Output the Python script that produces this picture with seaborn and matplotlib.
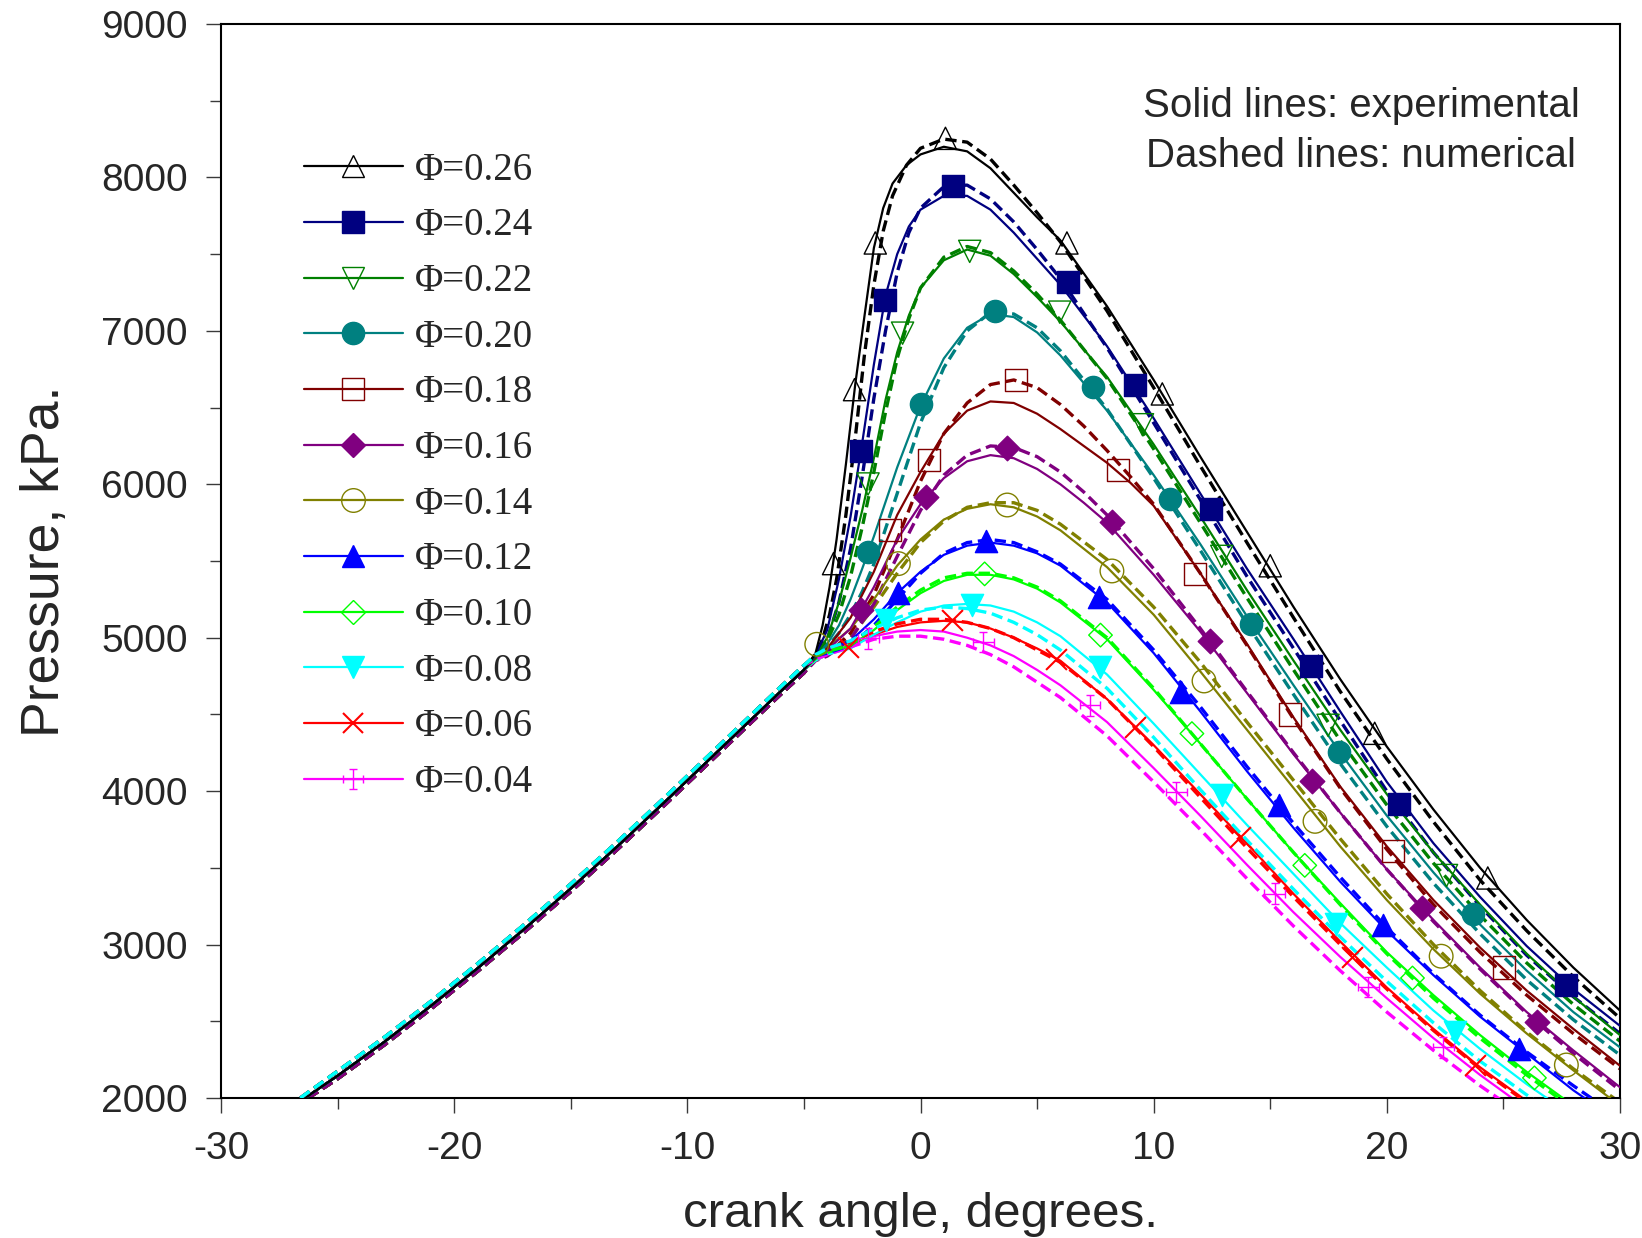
import numpy as np
import matplotlib
matplotlib.use("Agg")
import matplotlib.pyplot as plt
from matplotlib.lines import Line2D
from matplotlib.path import Path
from matplotlib.ticker import MultipleLocator
import seaborn as sns

# ---------------------------------------------------------------------------
# Shared compression stroke (before ignition), crank angle in degrees / kPa
# ---------------------------------------------------------------------------
comp_deg_exp = [-26.4, -25, -23, -21, -19, -17, -15, -13, -11, -9, -7, -6, -5]
comp_kpa_exp = [2000, 2145, 2365, 2600, 2845, 3100, 3365, 3640, 3925, 4215, 4505, 4650, 4790]
# model compression: lean cases sit slightly above, rich cases slightly below
comp_deg_num_lean = [-26.6, -25, -23, -21, -19, -17, -15, -13, -11, -9, -7, -6, -5]
comp_kpa_num_lean = [2000, 2175, 2395, 2630, 2875, 3130, 3395, 3670, 3955, 4245, 4535, 4680, 4820]
comp_deg_num_rich = [-26.25, -25, -23, -21, -19, -17, -15, -13, -11, -9, -7, -6, -5]
comp_kpa_num_rich = [2000, 2125, 2345, 2580, 2825, 3080, 3345, 3620, 3905, 4195, 4485, 4630, 4770]

# Crank-angle grids used after ignition
grid_a = [-5, -4.5, -4.2, -3.9, -3.6, -3.2, -2.8, -2.4, -2.0, -1.6, -1.2, -0.6, 0,
          1, 2, 3, 4, 5, 6, 8, 10, 12, 14, 16, 18, 20, 22, 24, 26, 28, 30]
grid_b = [-5, -4.5, -4, -3.5, -3, -2.5, -2, -1.5, -1, -0.5, 0,
          1, 2, 3, 4, 5, 6, 8, 10, 12, 14, 16, 18, 20, 22, 24, 26, 28, 30]
grid_c = [-5, -4.5, -4, -3.5, -3, -2.5, -2, -1, 0,
          1, 2, 3, 4, 5, 6, 8, 10, 12, 14, 16, 18, 20, 22, 24, 26, 28, 30]
grid_d = [-5, -4.5, -4, -3, -2, -1, 0, 1, 2, 3, 4, 5, 6, 7, 8, 9, 10,
          12, 14, 16, 18, 20, 22, 24, 26, 28, 30]
grid_e = [-5, -4.5, -4, -3, -2, -1, 0, 1, 2, 3, 4, 5, 6, 7, 8,
          10, 12, 14, 16, 18, 20, 22, 24, 26, 28, 30]
grid_f = [-5, -4.5, -4, -3, -2, -1, 0, 1, 2, 3, 4, 5, 6,
          8, 10, 12, 14, 16, 18, 20, 22, 24, 26, 28, 30]

# Pressure traces: experimental (solid) and numerical (dashed), kPa
p026_exp = [4790, 4900, 5080, 5330, 5640, 6130, 6650, 7100, 7540, 7800, 7960, 8080, 8150,
            8200, 8170, 8060, 7900, 7740, 7590, 7160, 6680, 6180, 5690, 5200, 4730, 4290,
            3880, 3500, 3160, 2850, 2570]
p026_num = [4770, 4890, 4990, 5150, 5380, 5800, 6300, 6850, 7300, 7650, 7880, 8080, 8190,
            8250, 8230, 8120, 7950, 7770, 7580, 7130, 6630, 6120, 5620, 5130, 4650, 4210,
            3800, 3420, 3090, 2790, 2520]
p024_exp = [4790, 4890, 5050, 5380, 5790, 6270, 6780, 7230, 7500, 7680, 7790,
            7880, 7880, 7790, 7640, 7470, 7300, 6900, 6430, 5940, 5450, 4990, 4520, 4060,
            3660, 3310, 2990, 2710, 2470]
p024_num = [4770, 4880, 4990, 5230, 5580, 6050, 6560, 7000, 7380, 7640, 7800,
            7940, 7950, 7860, 7710, 7530, 7340, 6890, 6400, 5900, 5400, 4930, 4460, 4000,
            3600, 3250, 2930, 2660, 2420]
p022_exp = [4790, 4880, 5000, 5230, 5520, 5830, 6170, 6550, 6860, 7100, 7280,
            7460, 7530, 7490, 7370, 7220, 7060, 6700, 6260, 5790, 5310, 4850, 4400, 3980,
            3600, 3260, 2940, 2660, 2410]
p022_num = [4770, 4880, 4980, 5150, 5400, 5720, 6080, 6470, 6820, 7080, 7280,
            7480, 7550, 7510, 7390, 7240, 7070, 6690, 6230, 5750, 5260, 4790, 4330, 3910,
            3530, 3190, 2880, 2610, 2370]
p020_exp = [4790, 4880, 4960, 5080, 5250, 5450, 5660, 6110, 6510,
            6820, 7020, 7110, 7090, 6990, 6840, 6480, 6060, 5610, 5140, 4690, 4250, 3840,
            3470, 3130, 2830, 2560, 2330]
p020_num = [4770, 4870, 4940, 5030, 5150, 5300, 5480, 5940, 6400,
            6760, 7000, 7120, 7110, 7020, 6870, 6490, 6040, 5570, 5090, 4630, 4180, 3770,
            3400, 3070, 2770, 2510, 2280]
p018_exp = [4790, 4870, 4930, 5130, 5430, 5800, 6080,
            6330, 6480, 6540, 6530, 6460, 6360, 6250, 6140, 6010, 5860,
            5420, 4960, 4480, 4030, 3640, 3290, 2980, 2700, 2450, 2210]
p018_num = [4770, 4860, 4890, 5030, 5280, 5640, 6020,
            6330, 6530, 6650, 6680, 6630, 6520, 6380, 6220, 6050, 5870,
            5420, 4950, 4470, 4020, 3620, 3260, 2950, 2670, 2420, 2190]
p016_exp = [4790, 4870, 4920, 5060, 5330, 5640, 5870,
            6040, 6150, 6190, 6170, 6100, 6000, 5880, 5750,
            5410, 5040, 4640, 4240, 3860, 3490, 3160, 2850, 2560, 2310, 2070]
p016_num = [4770, 4850, 4880, 4990, 5220, 5530, 5830,
            6060, 6190, 6250, 6240, 6180, 6080, 5950, 5800,
            5450, 5060, 4650, 4250, 3860, 3490, 3150, 2840, 2550, 2290, 2050]
p014_exp = [4790, 4880, 4930, 5060, 5250, 5470, 5640, 5770, 5840, 5870, 5850, 5790, 5700,
            5460, 5150, 4780, 4400, 4020, 3640, 3290, 2970, 2680, 2420, 2180, 1950]
p014_num = [4770, 4870, 4910, 5000, 5200, 5420, 5620, 5760, 5850, 5880, 5880, 5830, 5740,
            5510, 5200, 4840, 4450, 4070, 3690, 3330, 3000, 2700, 2430, 2190, 1970]
p012_exp = [4790, 4870, 4920, 4980, 5120, 5290, 5430, 5540, 5600, 5620, 5600, 5550, 5470,
            5230, 4900, 4520, 4130, 3760, 3410, 3090, 2800, 2530, 2290, 2050, 1840]
p012_num = [4820, 4880, 4900, 4950, 5080, 5250, 5420, 5550, 5620, 5640, 5620, 5560, 5480,
            5250, 4920, 4550, 4160, 3790, 3440, 3110, 2810, 2540, 2300, 2080, 1870]
p010_exp = [4790, 4860, 4900, 4950, 5050, 5180, 5290, 5370, 5410, 5410, 5380, 5320, 5230,
            4990, 4660, 4310, 3950, 3600, 3270, 2950, 2670, 2410, 2170, 1950, 1750]
p010_num = [4820, 4880, 4910, 4950, 5070, 5200, 5310, 5390, 5420, 5420, 5390, 5330, 5240,
            5000, 4670, 4310, 3950, 3600, 3260, 2940, 2650, 2390, 2150, 1930, 1730]
p008_exp = [4790, 4850, 4890, 4930, 5020, 5100, 5170, 5210, 5220, 5210, 5170, 5100, 5010,
            4760, 4440, 4110, 3780, 3460, 3140, 2850, 2570, 2320, 2090, 1880, 1690]
p008_num = [4820, 4890, 4930, 4980, 5060, 5130, 5180, 5200, 5190, 5160, 5100, 5020, 4920,
            4670, 4350, 4010, 3680, 3360, 3050, 2760, 2490, 2240, 2020, 1810, 1620]
p006_exp = [4790, 4850, 4890, 4940, 5020, 5070, 5100, 5110, 5100, 5060, 5000, 4930, 4850,
            4600, 4300, 3980, 3660, 3330, 3020, 2720, 2450, 2200, 1980, 1780, 1600]
p006_num = [4820, 4890, 4920, 4970, 5040, 5090, 5120, 5120, 5100, 5060, 5000, 4920, 4840,
            4600, 4290, 3960, 3630, 3310, 3000, 2710, 2440, 2190, 1970, 1770, 1590]
p004_exp = [4790, 4850, 4900, 4950, 5010, 5040, 5050, 5040, 5000, 4950, 4880, 4790, 4690,
            4450, 4150, 3840, 3520, 3210, 2920, 2650, 2390, 2150, 1930, 1730, 1550]
p004_num = [4820, 4860, 4890, 4940, 4990, 5010, 5010, 4990, 4950, 4890, 4810, 4710, 4610,
            4360, 4060, 3750, 3430, 3120, 2830, 2560, 2310, 2080, 1870, 1680, 1500]

# Symbol positions along the measured traces (deg, kPa)
m026_deg = [-3.73, -2.83, -1.94, 1.07, 6.28, 10.37, 15.0, 19.48, 24.33]
m026_kpa = [5483, 6617, 7573, 8255, 7573, 6589, 5469, 4377, 3434]
m024_deg = [-2.56, -1.53, 1.39, 6.33, 9.20, 12.48, 16.74, 20.52, 27.70]
m024_kpa = [6220, 7204, 7941, 7320, 6644, 5838, 4814, 3919, 2737]
m022_deg = [-2.25, -0.77, 2.11, 5.97, 9.52, 12.92, 17.48, 22.56]
m022_kpa = [6002, 6985, 7518, 7122, 6388, 5530, 4429, 3450]
m020_deg = [-2.25, 0.04, 3.18, 7.40, 10.71, 14.19, 17.96, 23.71]
m020_kpa = [5558, 6521, 7129, 6637, 5903, 5090, 4253, 3198]
m018_deg = [-1.31, 0.35, 4.08, 8.46, 11.77, 15.85, 20.25, 25.01]
m018_kpa = [5701, 6159, 6678, 6095, 5413, 4499, 3612, 2850]
m016_deg = [-2.56, 0.22, 3.72, 8.20, 12.40, 16.79, 21.5, 26.44]
m016_kpa = [5182, 5920, 6234, 5756, 4980, 4069, 3236, 2498]
m014_deg = [-4.45, -0.95, 3.72, 8.21, 12.16, 16.92, 22.33, 27.7]
m014_kpa = [4957, 5483, 5865, 5435, 4718, 3803, 2924, 2215]
m012_deg = [-0.95, 2.82, 7.67, 11.19, 15.37, 19.85, 25.65]
m012_kpa = [5292, 5633, 5264, 4648, 3910, 3130, 2318]
m010_deg = [2.75, 7.72, 11.64, 16.48, 21.10, 26.33]
m010_kpa = [5416, 5017, 4375, 3516, 2782, 2131]
m008_deg = [-1.46, 2.19, 7.69, 12.91, 17.84, 22.92]
m008_kpa = [5114, 5211, 4810, 3972, 3136, 2429]
m006_deg = [-3.10, 1.33, 5.83, 9.19, 13.70, 18.49, 23.77]
m006_kpa = [4940, 5114, 4863, 4418, 3700, 2919, 2212]
m004_deg = [-2.24, 2.69, 7.27, 10.97, 15.20, 19.20, 22.42]
m004_kpa = [4995, 4972, 4560, 3994, 3332, 2723, 2331]

phi_labels = ["Φ=0.26", "Φ=0.24", "Φ=0.22", "Φ=0.20", "Φ=0.18", "Φ=0.16",
              "Φ=0.14", "Φ=0.12", "Φ=0.10", "Φ=0.08", "Φ=0.06", "Φ=0.04"]

# ---------------------------------------------------------------------------
# Styling
# ---------------------------------------------------------------------------
capped_cross = Path(
    [(0, -1), (0, 1), (-0.4, 1), (0.4, 1), (-0.4, -1), (0.4, -1),
     (-1, 0), (1, 0), (-1, -0.4), (-1, 0.4), (1, -0.4), (1, 0.4)],
    [Path.MOVETO, Path.LINETO] * 6,
)

RICH = (comp_deg_num_rich, comp_kpa_num_rich)
LEAN = (comp_deg_num_lean, comp_kpa_num_lean)

series = [
    (grid_a, p026_exp, p026_num, RICH, m026_deg, m026_kpa, "#000000", "^", 16, False),
    (grid_b, p024_exp, p024_num, RICH, m024_deg, m024_kpa, "#000080", "s", 16, True),
    (grid_b, p022_exp, p022_num, RICH, m022_deg, m022_kpa, "#008000", "v", 16, False),
    (grid_c, p020_exp, p020_num, RICH, m020_deg, m020_kpa, "#008080", "o", 16, True),
    (grid_d, p018_exp, p018_num, RICH, m018_deg, m018_kpa, "#800000", "s", 16, False),
    (grid_e, p016_exp, p016_num, RICH, m016_deg, m016_kpa, "#800080", "D", 12.5, True),
    (grid_f, p014_exp, p014_num, RICH, m014_deg, m014_kpa, "#808000", "o", 17, False),
    (grid_f, p012_exp, p012_num, LEAN, m012_deg, m012_kpa, "#0000FF", "^", 16, True),
    (grid_f, p010_exp, p010_num, LEAN, m010_deg, m010_kpa, "#00FF00", "D", 12, False),
    (grid_f, p008_exp, p008_num, LEAN, m008_deg, m008_kpa, "#00FFFF", "v", 16, True),
    (grid_f, p006_exp, p006_num, LEAN, m006_deg, m006_kpa, "#FF0000", "x", 15, False),
    (grid_f, p004_exp, p004_num, LEAN, m004_deg, m004_kpa, "#FF00FF", capped_cross, 15, False),
]

sns.set_style("ticks")
plt.rcParams["font.family"] = ["Liberation Sans", "DejaVu Sans"]
plt.rcParams["axes.unicode_minus"] = False

fig = plt.figure(figsize=(16.42, 12.38), dpi=100)
ax = fig.add_axes([0.1346, 0.1131, 0.852, 0.8675])

SOLID_LW = 1.6
DASH_LW = 2.4
DASH = (0, (3.4, 1.7))
# stacking order of the model traces where they overlap on compression
dash_z = {"#00FFFF": 2.9, "#00FF00": 2.85, "#0000FF": 2.8, "#FF0000": 2.75,
          "#FF00FF": 2.7, "#800080": 2.45, "#800000": 2.44}

handles = []
for idx, (grid, p_exp, p_num, comp, mdeg, mkpa, color, marker, msize, filled) in enumerate(series):
    x_exp = comp_deg_exp[:-1] + grid
    y_exp = comp_kpa_exp[:-1] + p_exp
    x_num = comp[0][:-1] + grid
    y_num = comp[1][:-1] + p_num

    sns.lineplot(x=x_exp, y=y_exp, ax=ax, color=color, linewidth=SOLID_LW,
                 sort=False, estimator=None, legend=False, zorder=2.6 - idx * 0.01)
    sns.lineplot(x=x_num, y=y_num, ax=ax, color=color, linewidth=DASH_LW,
                 linestyle=DASH, sort=False, estimator=None, legend=False,
                 zorder=dash_z.get(color, 2.2 + idx * 0.01))

    if marker == "x":
        sns.scatterplot(x=mdeg, y=mkpa, ax=ax, marker="x", s=msize ** 2, color=color,
                        edgecolor=None, linewidth=1.5, zorder=4, legend=False)
        face = color
    else:
        face = color if filled else "none"
        sns.scatterplot(x=mdeg, y=mkpa, ax=ax, marker=marker, s=msize ** 2, color=color,
                        facecolor=face, edgecolor=color, linewidth=1.0,
                        zorder=4, legend=False)

    handles.append(Line2D([0], [0], color=color, linewidth=SOLID_LW, marker=marker,
                          markersize=msize, markerfacecolor=face,
                          markeredgecolor=color,
                          markeredgewidth=1.5 if marker == "x" else 1.0))

ax.set_xlim(-30, 30)
ax.set_ylim(2000, 9000)
ax.xaxis.set_major_locator(MultipleLocator(10))
ax.xaxis.set_minor_locator(MultipleLocator(5))
ax.yaxis.set_major_locator(MultipleLocator(1000))
ax.yaxis.set_minor_locator(MultipleLocator(500))
ax.tick_params(which="both", direction="out", color="#3a3a3a", width=1.0)
ax.tick_params(which="major", length=10.8, labelsize=28, pad=13)
ax.tick_params(which="minor", length=8)
for spine in ax.spines.values():
    spine.set_color("black")
    spine.set_linewidth(1.5)

ax.set_xlabel("crank angle, degrees.", fontsize=35.5)
ax.set_ylabel("Pressure, kPa.", fontsize=38.5)
ax.xaxis.set_label_coords(0.5, -0.088)
ax.yaxis.set_label_coords(-0.108, 0.5)

ax.text(0.815, 0.924, "Solid lines: experimental", transform=ax.transAxes,
        ha="center", va="center", fontsize=29)
ax.text(0.815, 0.877, "Dashed lines: numerical", transform=ax.transAxes,
        ha="center", va="center", fontsize=29)

ax.legend(handles, phi_labels, loc="upper left", bbox_to_anchor=(0.059, 0.881),
          frameon=False, prop={"family": "Liberation Serif", "size": 28},
          handlelength=2.55, handletextpad=0.3, labelspacing=0.48,
          borderpad=0, borderaxespad=0, numpoints=1)

fig.savefig("out.png", dpi=100)
